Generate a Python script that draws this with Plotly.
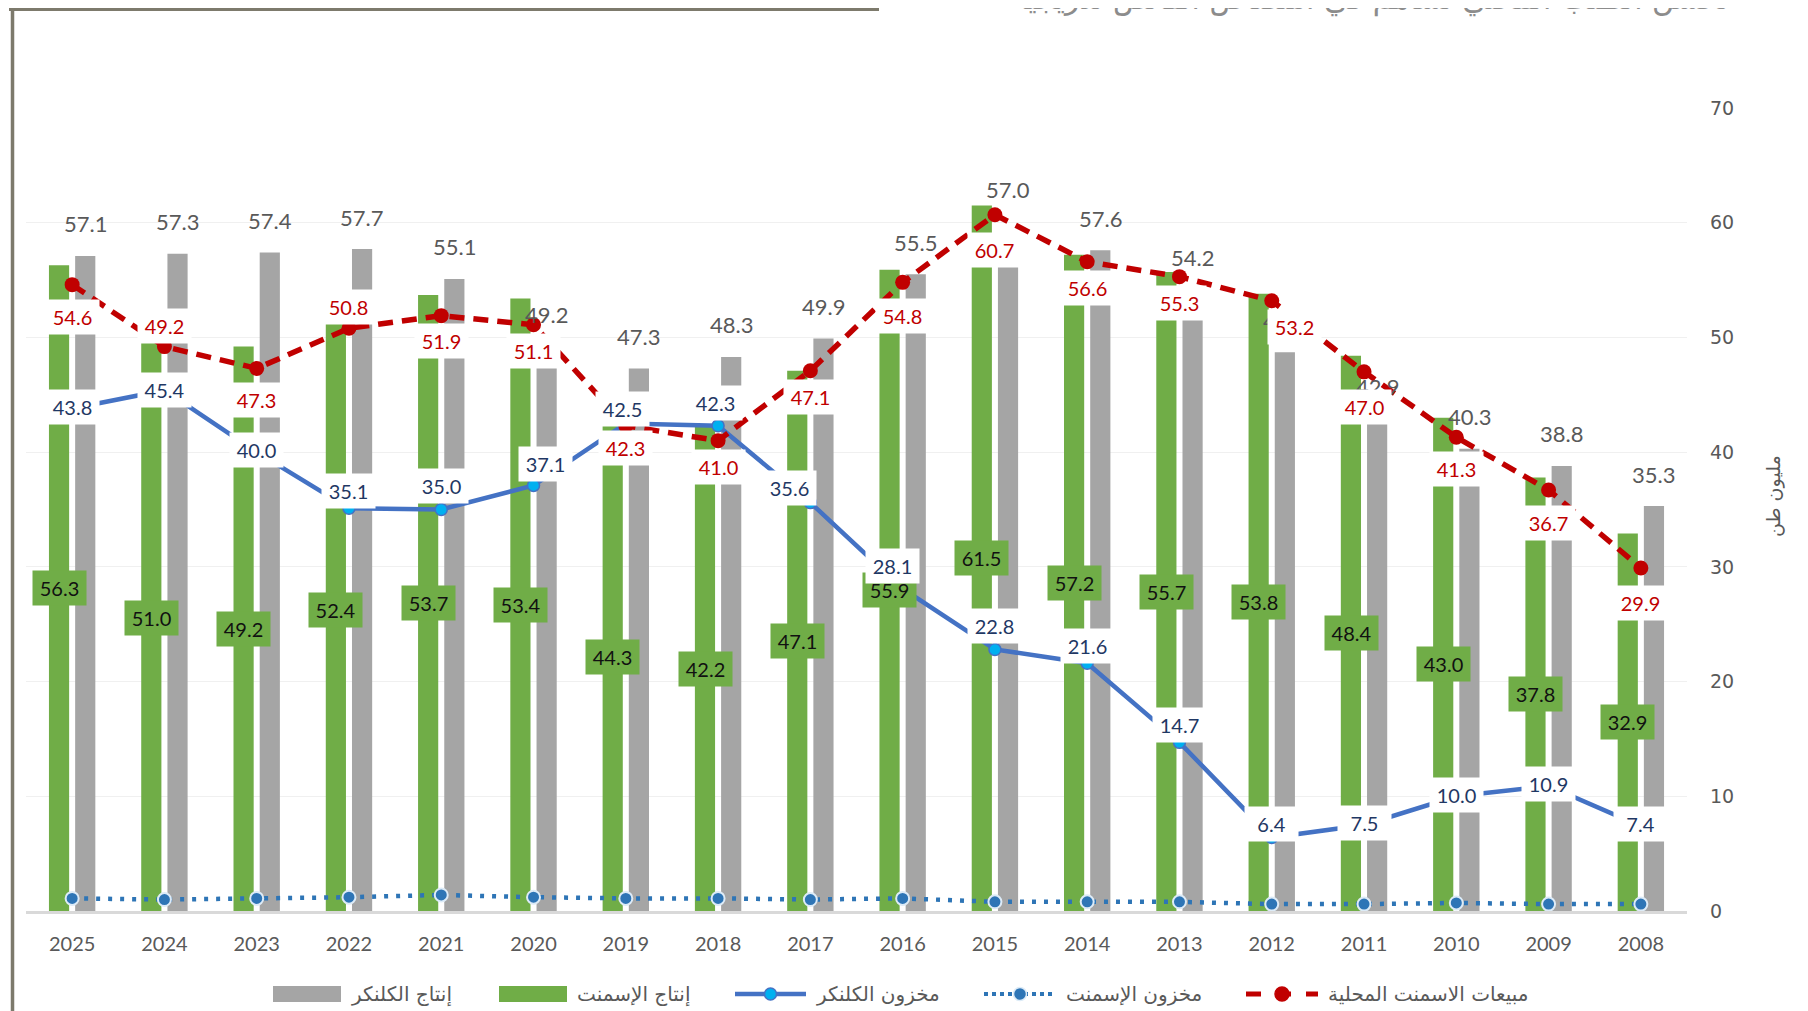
import plotly.graph_objects as go

# ---------------- data ----------------
years = ["2025", "2024", "2023", "2022", "2021", "2020", "2019", "2018", "2017",
         "2016", "2015", "2014", "2013", "2012", "2011", "2010", "2009", "2008"]
clinker_production = [57.1, 57.3, 57.4, 57.7, 55.1, 49.2, 47.3, 48.3, 49.9,
                      55.5, 57.0, 57.6, 54.2, 48.7, 42.9, 40.3, 38.8, 35.3]
cement_production = [56.3, 51.0, 49.2, 52.4, 53.7, 53.4, 44.3, 42.2, 47.1,
                     55.9, 61.5, 57.2, 55.7, 53.8, 48.4, 43.0, 37.8, 32.9]
cement_sales = [54.6, 49.2, 47.3, 50.8, 51.9, 51.1, 42.3, 41.0, 47.1,
                54.8, 60.7, 56.6, 55.3, 53.2, 47.0, 41.3, 36.7, 29.9]
clinker_stock = [43.8, 45.4, 40.0, 35.1, 35.0, 37.1, 42.5, 42.3, 35.6,
                 28.1, 22.8, 21.6, 14.7, 6.4, 7.5, 10.0, 10.9, 7.4]
cement_stock = [1.1, 1.0, 1.1, 1.2, 1.4, 1.2, 1.1, 1.1, 1.0,
                1.1, 0.8, 0.8, 0.8, 0.6, 0.6, 0.7, 0.6, 0.6]

y_ticks = [0, 10, 20, 30, 40, 50, 60, 70]

title_text = "تحسن الطلب المحلي تساهم في امتصاص الفائض تدريجيا"
y_title = "مليون طن"
name_clinker_prod = "إنتاج الكلنكر"
name_cement_prod = "إنتاج الإسمنت"
name_clinker_stock = "مخزون الكلنكر"
name_cement_stock = "مخزون الإسمنت"
name_sales = "مبيعات الاسمنت المحلية"

# ---------------- label placement (pixel offsets, styling only) ----------------
gray_dy = [32] * 18
gray_dy[10] = 68
red_dy = [-32, 21, -32, 21, -25, -26, -22, -26, -26, -34, -35, -26, -26, -26, -35, -32, -33, -35]
red_dx = [0] * 18
red_dx[13] = 23
blue_dy = [2, 0, 2, 17, 24, 21, 14, 23, 15, 23, 23, 17, 17, 14, 2, 1, 2, 2]
blue_dx = [0, 0, 0, 0, 0, 12, -3, -3, -21, -10, 0, 0, 0, 0, 0, 0, 0, 0]

# ---------------- geometry ----------------
# the page body has an 8px margin, so the figure sits 8px in from the page corner
OFF = 8
W, H = 1800, 1003
# plot area in page pixels
P_L, P_R, P_T, P_B = 26, 1687, 108, 911
PL, PR, PT, PB = P_L - OFF, P_R - OFF, P_T - OFF, P_B - OFF


def px(X):  # page pixel -> paper x
    return (X - OFF - PL) / (PR - PL)


def py(Y):  # page pixel -> paper y
    return (PB - (Y - OFF)) / (PB - PT)


GREEN = "#70ad47"
GRAY = "#a5a5a5"
RED = "#c00000"
BLUE = "#4472c4"
DOT = "#2e75b6"
TXT = "#595959"
NUMFONT = "Lato"
ARFONT = "DejaVu Sans"

fig = go.Figure()
fig.add_trace(go.Bar(x=years, y=cement_production, name=name_cement_prod,
                     marker=dict(color=GREEN, line=dict(width=0)), showlegend=False))
fig.add_trace(go.Bar(x=years, y=clinker_production, name=name_clinker_prod,
                     marker=dict(color=GRAY, line=dict(width=0)), showlegend=False))
fig.add_trace(go.Scatter(x=years, y=cement_stock, name=name_cement_stock, mode="lines+markers",
                         line=dict(color=DOT, width=4.5, dash="4px,8px"),
                         marker=dict(size=13, color=DOT, line=dict(color="#ddebf7", width=2)),
                         showlegend=False))
fig.add_trace(go.Scatter(x=years, y=clinker_stock, name=name_clinker_stock, mode="lines+markers",
                         line=dict(color=BLUE, width=4.5),
                         marker=dict(size=12, color="#00b0f0", line=dict(color=BLUE, width=1.5)),
                         showlegend=False))
fig.add_trace(go.Scatter(x=years, y=cement_sales, name=name_sales, mode="lines+markers",
                         line=dict(color=RED, width=5.5, dash="15px,9px"),
                         marker=dict(size=15, color=RED),
                         showlegend=False))

ann = []
# positions on the category axis are given by category index
# gray labels above clinker bars
for i, v in enumerate(clinker_production):
    ann.append(dict(x=i, y=v, xref="x", yref="y", text=f"{v:.1f}", showarrow=False,
                    xshift=13, yshift=gray_dy[i], font=dict(family=NUMFONT, size=22, color=TXT)))
# green labels mid-bar
for i, v in enumerate(cement_production):
    ann.append(dict(x=i, y=v / 2, xref="x", yref="y", text=f"{v:.1f}", showarrow=False,
                    xshift=-13, bgcolor=GREEN, width=47, height=28, borderpad=3,
                    font=dict(family=NUMFONT, size=20, color="#111111")))
# red sales labels
for i, v in enumerate(cement_sales):
    ann.append(dict(x=i, y=v, xref="x", yref="y", text=f"{v:.1f}", showarrow=False,
                    xshift=red_dx[i], yshift=red_dy[i], bgcolor="white", width=47, height=28,
                    borderpad=3, font=dict(family=NUMFONT, size=20, color=RED)))
# blue clinker stock labels
for i, v in enumerate(clinker_stock):
    ann.append(dict(x=i, y=v, xref="x", yref="y", text=f"{v:.1f}", showarrow=False,
                    xshift=blue_dx[i], yshift=blue_dy[i], bgcolor="white", width=47, height=28,
                    borderpad=3, font=dict(family=NUMFONT, size=20, color="#1f3864")))

# title (partly cut off at top like the reference)
ann.append(dict(x=px(1731), y=py(-1), xref="paper", yref="paper", text=title_text,
                showarrow=False, xanchor="right", yanchor="middle",
                font=dict(family=ARFONT, size=30, color="#8c8c8c")))
# y-axis title
ann.append(dict(x=px(1773), y=py(496), xref="paper", yref="paper", text=y_title,
                showarrow=False, textangle=-90, xanchor="center", yanchor="middle",
                font=dict(family=ARFONT, size=19, color=TXT)))

shapes = []
# frame lines
shapes.append(dict(type="line", xref="paper", yref="paper", x0=px(9), x1=px(879), y0=py(9.5), y1=py(9.5),
                   line=dict(color="#7d7a6c", width=3)))
shapes.append(dict(type="line", xref="paper", yref="paper", x0=px(12.5), x1=px(12.5), y0=py(8), y1=py(1011),
                   line=dict(color="#7d7a6c", width=3.5)))

# custom legend
LY = 994
leg = [
    ("rect", GRAY, 273, 341, name_clinker_prod),
    ("rect", GREEN, 499, 567, name_cement_prod),
    ("blue", BLUE, 735, 806, name_clinker_stock),
    ("dot", DOT, 984, 1056, name_cement_stock),
    ("red", RED, 1246, 1318, name_sales),
]
for kind, col, x0, x1, name in leg:
    if kind == "rect":
        shapes.append(dict(type="rect", xref="paper", yref="paper", x0=px(x0), x1=px(x1),
                           y0=py(LY + 8), y1=py(LY - 8), fillcolor=col, line=dict(width=0)))
    else:
        if kind == "blue":
            ln = dict(color=col, width=4.5)
            mfill, mline, r = "#00b0f0", BLUE, 6
        elif kind == "dot":
            ln = dict(color=col, width=4, dash="dot")
            mfill, mline, r = DOT, "#ddebf7", 6.5
        else:
            ln = dict(color=col, width=5, dash="dash")
            mfill, mline, r = RED, RED, 7
        shapes.append(dict(type="line", xref="paper", yref="paper", x0=px(x0), x1=px(x1),
                           y0=py(LY), y1=py(LY), line=ln))
        cx = (x0 + x1) / 2
        shapes.append(dict(type="circle", xref="paper", yref="paper", x0=px(cx - r), x1=px(cx + r),
                           y0=py(LY + r), y1=py(LY - r), fillcolor=mfill, line=dict(color=mline, width=1.5)))
    ann.append(dict(x=px(x1 + 8), y=py(LY), xref="paper", yref="paper", text=name, showarrow=False,
                    xanchor="left", yanchor="middle", font=dict(family=ARFONT, size=20, color=TXT)))

fig.update_layout(
    width=W, height=H,
    margin=dict(l=PL, r=W - PR, t=PT, b=H - PB, pad=0),
    paper_bgcolor="white", plot_bgcolor="white",
    barmode="group", bargap=0.432, bargroupgap=0.23,
    showlegend=False,
    annotations=ann, shapes=shapes,
    xaxis=dict(type="category", categoryorder="array", categoryarray=years,
               range=[-0.5, len(years) - 0.5], autorange=False,
               showgrid=False, showline=True, linecolor="#d9d9d9", linewidth=2.5,
               ticks="", tickfont=dict(family=NUMFONT, size=20, color=TXT),
               ticklabelstandoff=13, fixedrange=True),
    yaxis=dict(side="right", range=[0, 70], autorange=False, tickvals=y_ticks, showgrid=True,
               gridcolor="#f0f0f0", gridwidth=1, zeroline=False, showline=False,
               ticks="", tickfont=dict(family="DejaVu Sans", size=19, color=TXT),
               ticklabelstandoff=22, fixedrange=True),
)

fig.write_html("out.html")
